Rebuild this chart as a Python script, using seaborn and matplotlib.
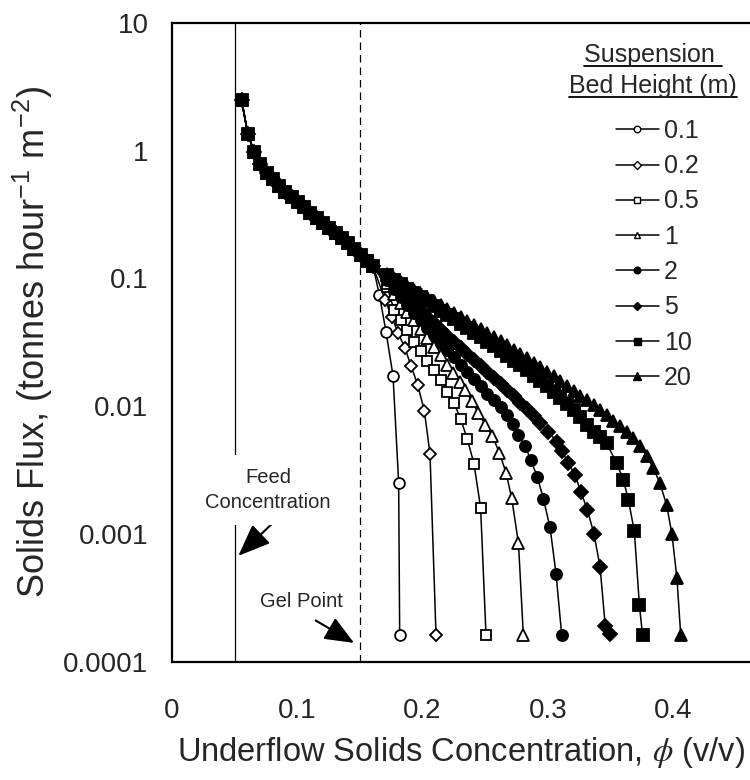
import numpy as np
import matplotlib
matplotlib.use("Agg")
import matplotlib.pyplot as plt
import seaborn as sns
from matplotlib.ticker import FixedLocator, MultipleLocator, NullFormatter
from matplotlib.lines import Line2D

sns.set_theme(style="white")
plt.rcParams['font.family'] = ['Liberation Sans', 'DejaVu Sans']
plt.rcParams['mathtext.fontset'] = 'custom'
plt.rcParams['mathtext.rm'] = 'Liberation Sans'
plt.rcParams['mathtext.it'] = 'Liberation Sans:italic'

# shared part of every curve (below the gel point all bed heights coincide)
base_phi = [0.0555, 0.0605, 0.0655, 0.0705, 0.0755, 0.0805, 0.0855, 0.0905, 0.0955, 0.1005,
            0.1055, 0.1105, 0.1155, 0.1205, 0.1255, 0.1305, 0.1355, 0.1405, 0.1455, 0.1505,
            0.1555, 0.1605]
base_flux = [2.49, 1.35, 0.98, 0.785, 0.664, 0.596, 0.532, 0.478, 0.437, 0.394,
             0.361, 0.327, 0.299, 0.270, 0.247, 0.225, 0.206, 0.188, 0.169, 0.153,
             0.138, 0.124]

heights = ['0.1', '0.2', '0.5', '1', '2', '5', '10', '20']

# tails, one per bed height
tail_phi = {
    '0.1': [0.1655, 0.1708, 0.1764, 0.1809, 0.1817],
    '0.2': [0.1700, 0.1753, 0.1806, 0.1860, 0.1907, 0.1961, 0.2014, 0.2059, 0.2107],
    '0.5': [0.1719, 0.1772, 0.1825, 0.1878, 0.1931, 0.1985, 0.2038, 0.2091, 0.2144, 0.2197,
            0.2251, 0.2304, 0.2357, 0.2410, 0.2463, 0.2506],
    '1': [0.1719, 0.1772, 0.1825, 0.1878, 0.1931, 0.1985, 0.2038, 0.2091, 0.2144, 0.2192,
          0.2245, 0.2298, 0.2338, 0.2392, 0.2445, 0.2500, 0.2557, 0.2612, 0.2666, 0.2711,
          0.2765, 0.2804],
    '2': [0.1719, 0.1772, 0.1825, 0.1878, 0.1931, 0.1985, 0.2038, 0.2091, 0.2144, 0.2197,
          0.2251, 0.2304, 0.2357, 0.2410, 0.2463, 0.2516, 0.2569, 0.2622, 0.2675, 0.2720,
          0.2765, 0.2818, 0.2865, 0.2916, 0.2964, 0.3017, 0.3065, 0.3110],
    '5': [0.1719, 0.1772, 0.1825, 0.1878, 0.1931, 0.1985, 0.2038, 0.2091, 0.2144, 0.2197,
          0.2251, 0.2304, 0.2357, 0.2410, 0.2463, 0.2516, 0.2569, 0.2622, 0.2675, 0.2728,
          0.2781, 0.2834, 0.2887, 0.2940, 0.3003, 0.3070, 0.3115, 0.3163, 0.3216, 0.3262,
          0.3315, 0.3368, 0.3416, 0.3458, 0.3496],
    '10': [0.1719, 0.1772, 0.1825, 0.1878, 0.1931, 0.1985, 0.2038, 0.2091, 0.2144, 0.2197,
           0.2251, 0.2304, 0.2357, 0.2410, 0.2463, 0.2516, 0.2569, 0.2622, 0.2675, 0.2728,
           0.2781, 0.2834, 0.2887, 0.2940, 0.2993, 0.3046, 0.3099, 0.3152, 0.3205, 0.3258,
           0.3311, 0.3364, 0.3417, 0.3469, 0.3549, 0.3602, 0.3642, 0.3690, 0.3730, 0.3755],
    '20': [0.1719, 0.1772, 0.1825, 0.1878, 0.1931, 0.1985, 0.2038, 0.2091, 0.2144, 0.2197,
           0.2251, 0.2304, 0.2357, 0.2410, 0.2463, 0.2516, 0.2569, 0.2622, 0.2675, 0.2728,
           0.2781, 0.2834, 0.2887, 0.2940, 0.2993, 0.3046, 0.3099, 0.3152, 0.3205, 0.3258,
           0.3311, 0.3364, 0.3417, 0.3470, 0.3523, 0.3576, 0.3629, 0.3682, 0.3735, 0.3788,
           0.3841, 0.3894, 0.3947, 0.3990, 0.4030, 0.4060],
}
tail_flux = {
    '0.1': [0.0743, 0.0383, 0.0173, 0.00252, 0.000163],
    '0.2': [0.068, 0.0502, 0.0372, 0.0284, 0.0208, 0.0147, 0.0092, 0.00425, 0.000163],
    '0.5': [0.085, 0.0566, 0.0473, 0.0395, 0.0321, 0.0272, 0.0226, 0.0193, 0.0161, 0.0130,
            0.0106, 0.00793, 0.00553, 0.00355, 0.00161, 0.000163],
    '1': [0.092, 0.075, 0.064, 0.055, 0.047, 0.040, 0.034, 0.029, 0.025, 0.0211,
          0.0182, 0.0155, 0.0134, 0.0110, 0.00883, 0.0072, 0.00586, 0.00435, 0.00303, 0.00191,
          0.00085, 0.000163],
    '2': [0.098, 0.083, 0.071, 0.062, 0.054, 0.047, 0.041, 0.036, 0.0315, 0.0276,
          0.0242, 0.0212, 0.0186, 0.0163, 0.0143, 0.0125, 0.0112, 0.0098, 0.0085, 0.0073,
          0.00597, 0.0049, 0.00377, 0.00279, 0.00189, 0.00113, 0.00049, 0.000163],
    '5': [0.102, 0.090, 0.080, 0.071, 0.063, 0.056, 0.050, 0.0445, 0.0397, 0.0355,
          0.0318, 0.0285, 0.0256, 0.0230, 0.0206, 0.0185, 0.0166, 0.0149, 0.0134, 0.0120,
          0.0107, 0.0095, 0.0084, 0.0074, 0.00634, 0.0053, 0.00443, 0.00359, 0.00291, 0.00215,
          0.00155, 0.00100, 0.000558, 0.00019, 0.000166],
    '10': [0.106, 0.097, 0.090, 0.083, 0.077, 0.071, 0.066, 0.061, 0.056, 0.052,
           0.048, 0.0443, 0.0409, 0.0377, 0.0348, 0.0320, 0.0295, 0.0271, 0.0249, 0.0228,
           0.0209, 0.0191, 0.0174, 0.0158, 0.0143, 0.0129, 0.0116, 0.0104, 0.0093, 0.0082,
           0.0072, 0.0063, 0.0058, 0.00515, 0.00359, 0.00266, 0.00186, 0.00105, 0.00028, 0.000163],
    '20': [0.108, 0.100, 0.093, 0.087, 0.081, 0.076, 0.071, 0.066, 0.062, 0.058,
           0.054, 0.050, 0.0465, 0.0433, 0.0403, 0.0375, 0.0348, 0.0323, 0.0300, 0.0278,
           0.0257, 0.0237, 0.0219, 0.0202, 0.0186, 0.0171, 0.0157, 0.0144, 0.0132, 0.0121,
           0.0111, 0.0102, 0.0093, 0.0085, 0.0077, 0.0070, 0.0063, 0.0056, 0.0049, 0.0041,
           0.0033, 0.0025, 0.0017, 0.0010, 0.00045, 0.000163],
}

marker_map = {'0.1': 'o', '0.2': 'D', '0.5': 's', '1': '^', '2': 'o', '5': 'D', '10': 's', '20': '^'}
filled = {'0.1': False, '0.2': False, '0.5': False, '1': False, '2': True, '5': True, '10': True, '20': True}
msize = {'0.1': 7.8, '0.2': 6.5, '0.5': 7.8, '1': 8.2, '2': 8.0, '5': 6.8, '10': 8.4, '20': 8.6}

fig = plt.figure(figsize=(7.5, 7.8), dpi=100)
ax = fig.add_axes([172 / 750, 1 - 662 / 780, 1 - 172 / 750, (662 - 22.7) / 780])

draw_order = ['20', '0.1', '0.2', '0.5', '1', '2', '5', '10']
for h in draw_order:
    x = base_phi + tail_phi[h]
    y = base_flux + tail_flux[h]
    fc = 'black' if filled[h] else 'white'
    sns.lineplot(x=x, y=y, ax=ax, sort=False, estimator=None, color='black', lw=1.1,
                 marker=marker_map[h], markersize=msize[h], markerfacecolor=fc,
                 markeredgecolor='black', markeredgewidth=1.3, zorder=3)

handles = []
for h in heights:
    fc = 'black' if filled[h] else 'white'
    handles.append(Line2D([], [], color='black', lw=1.1, marker=marker_map[h],
                          markersize=msize[h] * 0.6, markerfacecolor=fc,
                          markeredgecolor='black', markeredgewidth=1.0))

ax.set_yscale('log')
ax.set_xlim(0, (750 - 172) / 1253)
ax.set_ylim(0.0001, 10)

# feed concentration and gel point
ax.axvline(0.05, color='black', lw=0.9, zorder=2)
ax.axvline(0.15, color='black', lw=0.9, ls=(0, (6, 4)), zorder=2)

ax.xaxis.set_minor_locator(MultipleLocator(0.02))
ax.set_xticks([0, 0.1, 0.2, 0.3, 0.4])
ax.set_xticklabels(['0', '0.1', '0.2', '0.3', '0.4'])
ax.yaxis.set_major_locator(FixedLocator([1e-4, 1e-3, 1e-2, 1e-1, 1, 10]))
ax.set_yticklabels(['0.0001', '0.001', '0.01', '0.1', '1', '10'])
ax.yaxis.set_minor_locator(FixedLocator([k * 10.0 ** e for e in range(-4, 1) for k in range(2, 10)]))
ax.yaxis.set_minor_formatter(NullFormatter())

ax.tick_params(axis='both', which='both', direction='in', color='black', width=1.2)
ax.tick_params(axis='x', which='both', length=8, labelsize=20, pad=26)
ax.tick_params(axis='y', which='major', length=9, labelsize=20, pad=17)
ax.tick_params(axis='y', which='minor', length=5)
ax.tick_params(top=False, right=False)
for side in ['left', 'bottom', 'top']:
    ax.spines[side].set_color('black')
    ax.spines[side].set_linewidth(1.6)
ax.spines['right'].set_visible(False)

ax.set_xlabel(r'Underflow Solids Concentration, $\phi$ (v/v)', fontsize=23.5,
              math_fontfamily='stix', labelpad=8)
ax.set_ylabel(r'Solids Flux, (tonnes hour$^{-1}$ m$^{-2}$)', fontsize=26)
ax.yaxis.set_label_coords(-0.202, 0.5)

ax.text(0.0766, 0.00221, 'Feed\nConcentration', ha='center', va='center', fontsize=14.5,
        linespacing=1.45, bbox=dict(facecolor='white', edgecolor='none', pad=9), zorder=4)
ax.annotate('', xy=(0.0529, 0.000676), xytext=(0.0796, 0.0012),
            arrowprops=dict(arrowstyle='-|>,head_length=2.0,head_width=0.8', color='black',
                            lw=1.5, mutation_scale=10, shrinkA=0, shrinkB=0))
ax.text(0.1035, 0.000297, 'Gel Point', ha='center', va='center', fontsize=14.5)
ax.annotate('', xy=(0.1453, 0.000141), xytext=(0.1147, 0.000211),
            arrowprops=dict(arrowstyle='-|>,head_length=1.8,head_width=0.75', color='black',
                            lw=1.5, mutation_scale=10, shrinkA=0, shrinkB=0))

leg = ax.legend(handles, heights, loc='upper left', bbox_to_anchor=(616 / 750, 1 - 119 / 780),
                bbox_transform=fig.transFigure, frameon=False, fontsize=18, handlelength=1.7,
                handletextpad=0.22, labelspacing=0.45, borderpad=0, borderaxespad=0)

# underlined legend heading
fig.canvas.draw()
r = fig.canvas.get_renderer()
for txt, yc in [('Suspension ', 55), ('Bed Height (m)', 86)]:
    t = fig.text(653 / 750, 1 - yc / 780, txt, ha='center', va='center', fontsize=18)
    bb = t.get_window_extent(renderer=r)
    yline = bb.y0 + 1
    fig.add_artist(Line2D([bb.x0, bb.x1], [yline, yline], transform=None, color='black', lw=1.3))

fig.savefig('out.png', dpi=100)
